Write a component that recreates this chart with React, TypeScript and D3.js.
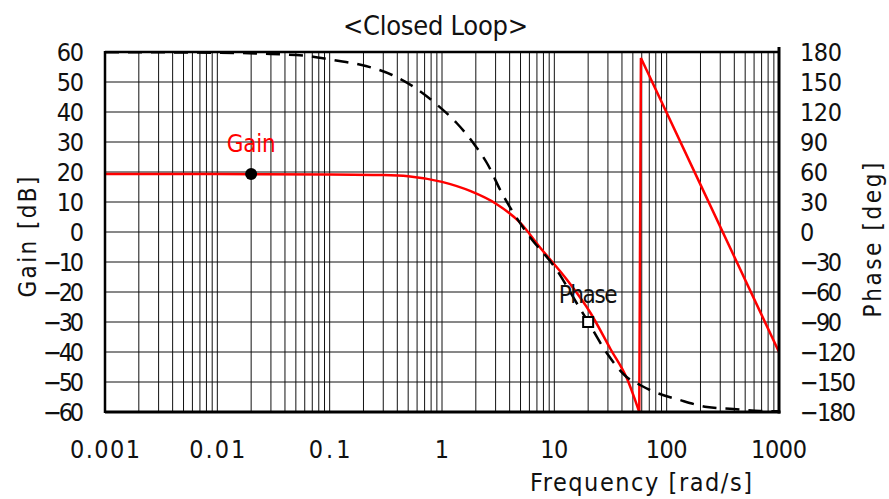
import React from 'react'
import * as d3 from 'd3'

// gain curve (red): frequency [rad/s] / gain [dB]
const gainFreq1 = [0.001, 0.01, 0.1, 0.3, 0.5, 1, 1.8, 3, 5, 7.4, 13, 21, 31.6, 44.5, 57]
const gainDb1 = [19.3, 19.3, 19.2, 19.0, 18.6, 16.7, 13.6, 9.5, 3, -5, -16, -27, -39, -49, -60]
const gainFreq2 = [57, 59, 200, 1000]
const gainDb2 = [-60, 58, 15.8, -40]

// phase curve (dashed): frequency [rad/s] / phase [deg]
const phaseFreq = [0.001, 0.01, 0.03, 0.065, 0.107, 0.21, 0.36, 0.58, 0.91, 1.35, 1.9, 2.57, 3.3, 5.7, 10.5, 15.8, 20, 29.3, 44, 58, 71, 131, 229, 392, 680, 1000]
const phaseDeg = [179.8, 179.3, 178, 176, 172, 166, 157, 144, 127, 109, 89, 67, 42, -1, -38, -71, -90, -121, -145, -153, -158, -168, -175, -177, -179, -179.3]

const gainTicks = [-60, -50, -40, -30, -20, -10, 0, 10, 20, 30, 40, 50, 60]
const phaseTicks = [-180, -150, -120, -90, -60, -30, 0, 30, 60, 90, 120, 150, 180]
const freqTicks = [0.001, 0.01, 0.1, 1, 10, 100, 1000]
const freqTickLabels = ['0.001', '0.01', '0.1', '1', '10', '100', '1000']

const gainMarker = { freq: 0.02, db: 19.3 }
const phaseMarker = { freq: 20, deg: -90 }

const FONT = "'Liberation Sans Narrow', 'DejaVu Sans Condensed', 'Noto Sans', sans-serif"
const minus = (s) => s.replace('-', '\u2212')

function BodePlot({ width, height, margin }) {
  const svgRef = React.useRef(null)

  React.useEffect(() => {
    const svg = d3.select(svgRef.current)
    svg.selectAll('*').remove()

    const x = d3
      .scaleLog()
      .domain([0.001, 1000])
      .range([margin.left, width - margin.right])
    const yGain = d3
      .scaleLinear()
      .domain([-60, 60])
      .range([height - margin.bottom, margin.top])
    const yPhase = d3
      .scaleLinear()
      .domain([-180, 180])
      .range([height - margin.bottom, margin.top])

    const top = margin.top
    const bottom = height - margin.bottom
    const left = margin.left
    const right = width - margin.right

    svg.append('rect').attr('width', width).attr('height', height).attr('fill', 'white')

    // Vertical grid (decades + 2..9)
    const grid = svg.append('g').attr('stroke', '#111').attr('stroke-width', 1)
    for (let e = -3; e < 3; e++) {
      for (let m = 1; m <= 9; m++) {
        const f = m * Math.pow(10, e)
        if (f <= 0.001) continue
        grid
          .append('line')
          .attr('x1', x(f))
          .attr('x2', x(f))
          .attr('y1', top)
          .attr('y2', bottom)
      }
    }
    // Horizontal grid every 10 dB
    gainTicks.forEach((t) => {
      grid
        .append('line')
        .attr('x1', left)
        .attr('x2', right)
        .attr('y1', yGain(t))
        .attr('y2', yGain(t))
    })

    // Gain line (red)
    const gainLine = d3
      .line()
      .x((d) => x(d[0]))
      .y((d) => yGain(d[1]))
    svg
      .append('path')
      .attr('d', gainLine.curve(d3.curveMonotoneX)(gainFreq1.map((f, i) => [f, gainDb1[i]])))
      .attr('fill', 'none')
      .attr('stroke', '#ff0000')
      .attr('stroke-width', 2.5)
    svg
      .append('path')
      .attr('d', gainLine.curve(d3.curveLinear)(gainFreq2.map((f, i) => [f, gainDb2[i]])))
      .attr('fill', 'none')
      .attr('stroke', '#ff0000')
      .attr('stroke-width', 2.5)

    // Phase line (dashed black)
    const phaseLine = d3
      .line()
      .x((d) => x(d[0]))
      .y((d) => yPhase(d[1]))
      .curve(d3.curveMonotoneX)
    svg
      .append('path')
      .attr('d', phaseLine(phaseFreq.map((f, i) => [f, phaseDeg[i]])))
      .attr('fill', 'none')
      .attr('stroke', 'black')
      .attr('stroke-width', 2.5)
      .attr('stroke-dasharray', '14,9')

    // Frame
    const frame = svg.append('g').attr('stroke', 'black')
    frame.append('line').attr('x1', left).attr('x2', right).attr('y1', top).attr('y2', top).attr('stroke-width', 2.5)
    frame.append('line').attr('x1', left).attr('x2', right + 1.5).attr('y1', bottom).attr('y2', bottom).attr('stroke-width', 3)
    frame.append('line').attr('x1', left).attr('x2', left).attr('y1', top - 1).attr('y2', bottom + 1).attr('stroke-width', 2.5)
    frame.append('line').attr('x1', right).attr('x2', right).attr('y1', top - 5).attr('y2', bottom + 1.5).attr('stroke-width', 3)

    // Markers and their labels
    svg
      .append('circle')
      .attr('cx', x(gainMarker.freq))
      .attr('cy', yGain(gainMarker.db))
      .attr('r', 6)
      .attr('fill', 'black')
    svg
      .append('text')
      .attr('x', x(gainMarker.freq))
      .attr('y', yGain(gainMarker.db) - 22)
      .attr('text-anchor', 'middle')
      .attr('font-family', FONT)
      .attr('font-size', 24)
      .attr('fill', '#ff0000')
      .attr('textLength', 49)
      .text('Gain')

    svg
      .append('rect')
      .attr('x', x(phaseMarker.freq) - 5)
      .attr('y', yPhase(phaseMarker.deg) - 5)
      .attr('width', 10)
      .attr('height', 10)
      .attr('fill', 'white')
      .attr('stroke', 'black')
      .attr('stroke-width', 2)
    svg
      .append('text')
      .attr('x', x(phaseMarker.freq))
      .attr('y', yPhase(phaseMarker.deg) - 19)
      .attr('text-anchor', 'middle')
      .attr('font-family', FONT)
      .attr('font-size', 24)
      .attr('fill', '#111')
      .attr('textLength', 59)
      .text('Phase')

    // Left ticks (gain)
    gainTicks.forEach((t) => {
      const s = minus(String(t))
      svg
        .append('text')
        .attr('x', left - 21)
        .attr('y', yGain(t))
        .attr('dy', '0.36em')
        .attr('text-anchor', 'end')
        .attr('font-family', FONT)
        .attr('font-size', 25)
        .attr('fill', '#111')
        .attr('textLength', s.length * 13.6)
        .text(s)
    })

    // Right ticks (phase)
    phaseTicks.forEach((t) => {
      const s = minus(String(t))
      svg
        .append('text')
        .attr('x', right + 21)
        .attr('y', yPhase(t))
        .attr('dy', '0.36em')
        .attr('text-anchor', 'start')
        .attr('font-family', FONT)
        .attr('font-size', 25)
        .attr('fill', '#111')
        .attr('textLength', s.length * 14)
        .text(s)
    })

    // Bottom ticks (frequency)
    freqTicks.forEach((t, i) => {
      const s = freqTickLabels[i]
      svg
        .append('text')
        .attr('x', x(t))
        .attr('y', bottom + 46)
        .attr('text-anchor', 'middle')
        .attr('font-family', FONT)
        .attr('font-size', 25)
        .attr('fill', '#111')
        .attr('textLength', s.length * 14)
        .text(s)
    })

    // Title
    svg
      .append('text')
      .attr('x', 435.5)
      .attr('y', 35)
      .attr('text-anchor', 'middle')
      .attr('font-family', FONT)
      .attr('font-size', 27)
      .attr('fill', '#111')
      .attr('textLength', 185)
      .text('<Closed Loop>')

    // X axis label
    svg
      .append('text')
      .attr('x', 641)
      .attr('y', height - 8)
      .attr('text-anchor', 'middle')
      .attr('font-family', FONT)
      .attr('font-size', 25)
      .attr('fill', '#111')
      .attr('textLength', 222)
      .text('Frequency [rad/s]')

    // Y axis labels
    svg
      .append('text')
      .attr('transform', 'translate(36, 237) rotate(-90)')
      .attr('text-anchor', 'middle')
      .attr('font-family', FONT)
      .attr('font-size', 24)
      .attr('fill', '#111')
      .attr('textLength', 121)
      .text('Gain [dB]')
    svg
      .append('text')
      .attr('transform', 'translate(881, 240) rotate(-90)')
      .attr('text-anchor', 'middle')
      .attr('font-family', FONT)
      .attr('font-size', 24)
      .attr('fill', '#111')
      .attr('textLength', 155)
      .text('Phase [deg]')
  }, [width, height, margin])

  return (
    <svg
      ref={svgRef}
      width={width}
      height={height}
      style={{ position: 'absolute', left: 0, top: 0 }}
    ></svg>
  )
}

export default function App() {
  return (
    <BodePlot
      width={889}
      height={499}
      margin={{ top: 52, right: 110, bottom: 87, left: 105 }}
    />
  )
}
